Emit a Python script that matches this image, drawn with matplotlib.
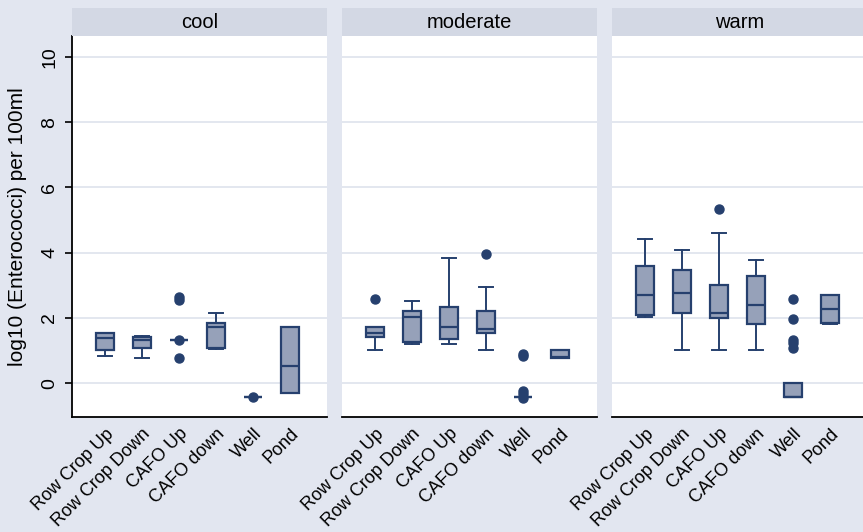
# -*- coding: utf-8 -*-

"""log10 Enterococci box plots by temperature group"""

import matplotlib.pyplot as plt

plt.rcParams['font.family'] = ['Liberation Sans', 'DejaVu Sans']

cats = ['Row Crop Up', 'Row Crop Down', 'CAFO Up', 'CAFO down', 'Well', 'Pond']
panels = ['cool', 'moderate', 'warm']

# box statistics (per panel, per category)
cool_med = [1.38, 1.32, 1.33, 1.73, -0.42, 0.52]
cool_q1 = [1.01, 1.07, 1.33, 1.06, -0.42, -0.30]
cool_q3 = [1.52, 1.40, 1.33, 1.83, -0.42, 1.71]
cool_lo = [0.83, 0.77, 1.33, 1.03, -0.42, -0.30]
cool_hi = [1.52, 1.44, 1.33, 2.16, -0.42, 1.71]
cool_out = [[], [], [2.55, 2.65, 1.33, 0.77], [], [-0.42], []]

mod_med = [1.52, 2.03, 1.71, 1.65, -0.42, 0.80]
mod_q1 = [1.40, 1.27, 1.34, 1.52, -0.42, 0.77]
mod_q3 = [1.71, 2.21, 2.32, 2.21, -0.42, 1.00]
mod_lo = [1.01, 1.20, 1.21, 1.01, -0.42, 0.77]
mod_hi = [1.71, 2.52, 3.83, 2.95, -0.42, 1.00]
mod_out = [[2.59], [], [], [3.97], [0.82, 0.88, -0.25, -0.33, -0.45], []]

warm_med = [2.71, 2.77, 2.14, 2.39, -0.44, 2.28]
warm_q1 = [2.09, 2.14, 2.01, 1.82, -0.44, 1.83]
warm_q3 = [3.59, 3.47, 3.02, 3.27, 0.01, 2.71]
warm_lo = [2.02, 1.01, 1.01, 1.01, -0.44, 1.80]
warm_hi = [4.41, 4.08, 4.60, 3.77, 0.01, 2.71]
warm_out = [[], [], [5.35], [], [2.59, 1.96, 1.32, 1.22, 1.06], []]

data = [
    (cool_med, cool_q1, cool_q3, cool_lo, cool_hi, cool_out),
    (mod_med, mod_q1, mod_q3, mod_lo, mod_hi, mod_out),
    (warm_med, warm_q1, warm_q3, warm_lo, warm_hi, warm_out),
]

bg = '#e2e6f0'
strip_col = '#d3d8e4'
navy = '#26406e'
fill = '#96a1b9'
grid_col = '#e1e5ee'

W, H = 863, 532
fig = plt.figure(figsize=(W / 100, H / 100), dpi=100, facecolor=bg)

lefts = [72, 342, 612]
pw = 255
top, bottom = 36, 417

for k, name in enumerate(panels):
    med, q1, q3, lo, hi, out = data[k]
    ax = fig.add_axes([lefts[k] / W, 1 - bottom / H, pw / W, (bottom - top) / H])
    ax.set_facecolor('white')
    stats = []
    for i in range(len(cats)):
        stats.append(dict(med=med[i], q1=q1[i], q3=q3[i], whislo=lo[i],
                          whishi=hi[i], fliers=out[i], label=cats[i]))
    ax.bxp(stats, positions=range(len(cats)), widths=0.51, capwidths=0.36,
           patch_artist=True, showfliers=True,
           boxprops=dict(facecolor=fill, edgecolor=navy, linewidth=1.6),
           medianprops=dict(color=navy, linewidth=1.6),
           whiskerprops=dict(color=navy, linewidth=1.4),
           capprops=dict(color=navy, linewidth=1.4),
           flierprops=dict(marker='o', markerfacecolor=navy,
                           markeredgecolor=navy, markersize=6.5))
    ax.set_xlim(-33 / 37, (pw - 33) / 37)
    ax.set_ylim(-1.04, 10.64)
    ax.set_yticks(range(0, 11, 2))
    ax.grid(axis='y', color=grid_col, linewidth=1.3)
    ax.set_axisbelow(True)
    ax.set_xticks(range(len(cats)))
    ax.set_xticklabels(cats, rotation=45, ha='right', rotation_mode='anchor',
                       fontsize=13)
    ax.tick_params(axis='x', length=0, pad=6)
    for s in ['top', 'right']:
        ax.spines[s].set_visible(False)
    ax.spines['bottom'].set_linewidth(1.3)
    if k == 0:
        ax.spines['left'].set_linewidth(1.3)
        ax.tick_params(axis='y', length=5, width=1.2, labelsize=14, pad=5)
        for t in ax.get_yticklabels():
            t.set_rotation(90)
            t.set_va('center')
        ax.set_ylabel('log10 (Enterococci) per 100ml', fontsize=15, labelpad=10)
    else:
        ax.spines['left'].set_visible(False)
        ax.tick_params(axis='y', length=0, labelleft=False)

    # strip with the panel title
    sx = fig.add_axes([lefts[k] / W, 1 - top / H, pw / W, (top - 8) / H])
    sx.set_facecolor(strip_col)
    sx.set_xticks([])
    sx.set_yticks([])
    for s in sx.spines.values():
        s.set_visible(False)
    sx.text(0.5, 0.5, name, ha='center', va='center', fontsize=14.5,
            transform=sx.transAxes)

plt.savefig('out.png', dpi=100, facecolor=bg)
